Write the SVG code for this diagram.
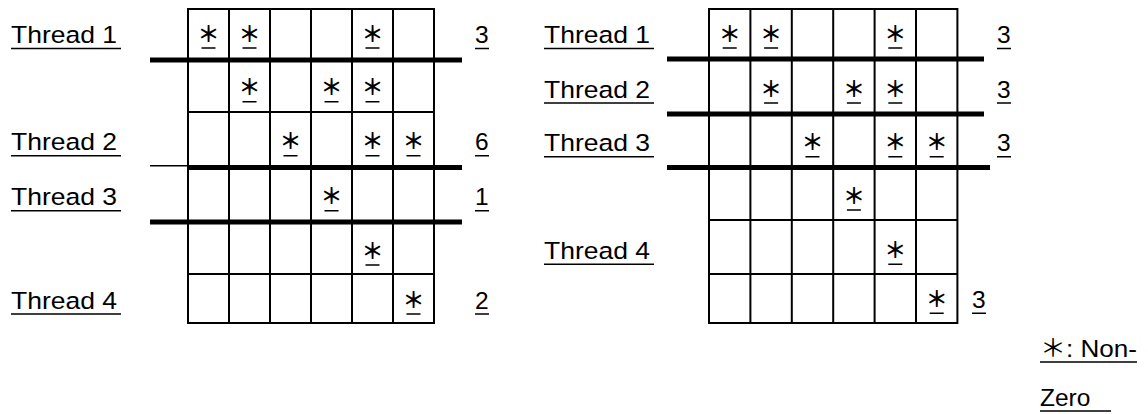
<svg xmlns="http://www.w3.org/2000/svg" width="1148" height="414" viewBox="0 0 1148 414">
  <style>
    .t { font-family: "Liberation Sans", "Noto Sans CJK JP", sans-serif; font-size: 24.5px; fill: #000; }
    .star { font-family: "Noto Sans CJK JP", "Liberation Sans", sans-serif; font-size: 22px; font-weight: 700; fill: #000; text-anchor: middle; }
    .grid { fill: none; stroke: #000; stroke-width: 2; }
    .sep { stroke: #000; stroke-width: 5; }
    .thin { stroke: #000; stroke-width: 1.5; }
    .ul { stroke: #000; stroke-width: 1.6; fill: none; }
  </style>
  <rect width="1148" height="414" fill="#fff"/>

  <!-- Left matrix: row partition before balancing -->
  <g id="matrix-left">
    <path class="grid" d="M188,9 H434 V323 H188 Z M229,9 V323 M270,9 V323 M311,9 V323 M352,9 V323 M393,9 V323 M188,112 H434 M188,274 H434"/>
    <g id="cells-left">
      <text class="star" x="208.5" y="41.5">＊</text>
      <text class="star" x="249.5" y="41.5">＊</text>
      <text class="star" x="372.5" y="41.5">＊</text>
      <text class="star" x="249.5" y="95.2">＊</text>
      <text class="star" x="331.5" y="95.2">＊</text>
      <text class="star" x="372.5" y="95.2">＊</text>
      <text class="star" x="290.5" y="149.2">＊</text>
      <text class="star" x="372.5" y="149.2">＊</text>
      <text class="star" x="413.5" y="149.2">＊</text>
      <text class="star" x="331.5" y="204.2">＊</text>
      <text class="star" x="372.5" y="258.5">＊</text>
      <text class="star" x="413.5" y="307.5">＊</text>
      <path class="ul" d="M201.5,48 h14 M242.5,48 h14 M365.5,48 h14 M242.5,101.7 h14 M324.5,101.7 h14 M365.5,101.7 h14 M283.5,155.7 h14 M365.5,155.7 h14 M406.5,155.7 h14 M324.5,210.7 h14 M365.5,265 h14 M406.5,314 h14"/>
    </g>
  </g>

  <!-- Left thread boundaries -->
  <g id="boundaries-left">
    <line class="sep" x1="150" y1="60" x2="462" y2="60"/>
    <line class="thin" x1="150" y1="165.7" x2="188" y2="165.7"/>
    <line class="sep" x1="188" y1="167.5" x2="462" y2="167.5"/>
    <line class="sep" x1="150" y1="222" x2="462" y2="222"/>
  </g>

  <g id="labels-left">
    <text class="t" x="11" y="43" textLength="106" lengthAdjust="spacingAndGlyphs">Thread 1</text>
    <text class="t" x="11" y="150.2" textLength="106" lengthAdjust="spacingAndGlyphs">Thread 2</text>
    <text class="t" x="11" y="205.2" textLength="106" lengthAdjust="spacingAndGlyphs">Thread 3</text>
    <text class="t" x="11" y="308.5" textLength="106" lengthAdjust="spacingAndGlyphs">Thread 4</text>
    <path class="ul" d="M11,48.5 H121 M11,155.7 H121 M11,210.7 H121 M11,314 H121"/>
  </g>

  <g id="counts-left">
    <text class="t" x="475" y="43">3</text>
    <text class="t" x="475" y="150.2">6</text>
    <text class="t" x="475" y="205.2">1</text>
    <text class="t" x="475" y="308.5">2</text>
    <path class="ul" d="M475,48.5 h14 M475,155.7 h14 M475,210.7 h14 M475,314 h14"/>
  </g>

  <!-- Right matrix: balanced row partition -->
  <g id="matrix-right">
    <path class="grid" d="M709,9 H957.4 V323 H709 Z M750.4,9 V323 M791.8,9 V323 M833.2,9 V323 M874.6,9 V323 M916,9 V323 M709,220 H957.4 M709,274 H957.4"/>
    <g id="cells-right">
      <text class="star" x="729.7" y="41.5">＊</text>
      <text class="star" x="771.1" y="41.5">＊</text>
      <text class="star" x="895.3" y="41.5">＊</text>
      <text class="star" x="771.1" y="96.5">＊</text>
      <text class="star" x="853.9" y="96.5">＊</text>
      <text class="star" x="895.3" y="96.5">＊</text>
      <text class="star" x="812.5" y="150.2">＊</text>
      <text class="star" x="895.3" y="150.2">＊</text>
      <text class="star" x="936.7" y="150.2">＊</text>
      <text class="star" x="853.9" y="203.5">＊</text>
      <text class="star" x="895.3" y="257.8">＊</text>
      <text class="star" x="936.7" y="306.8">＊</text>
      <path class="ul" d="M722.7,48 h14 M764.1,48 h14 M888.3,48 h14 M764.1,103 h14 M846.9,103 h14 M888.3,103 h14 M805.5,156.7 h14 M888.3,156.7 h14 M929.7,156.7 h14 M846.9,210 h14 M888.3,264.3 h14 M929.7,313.3 h14"/>
    </g>
  </g>

  <!-- Right thread boundaries -->
  <g id="boundaries-right">
    <line class="sep" x1="667" y1="59" x2="984" y2="59"/>
    <line class="sep" x1="667" y1="114" x2="984" y2="114"/>
    <line class="sep" x1="667" y1="167.5" x2="990" y2="167.5"/>
  </g>

  <g id="labels-right">
    <text class="t" x="544" y="43" textLength="106" lengthAdjust="spacingAndGlyphs">Thread 1</text>
    <text class="t" x="544" y="97.5" textLength="106" lengthAdjust="spacingAndGlyphs">Thread 2</text>
    <text class="t" x="544" y="151.2" textLength="106" lengthAdjust="spacingAndGlyphs">Thread 3</text>
    <text class="t" x="544" y="258.8" textLength="106" lengthAdjust="spacingAndGlyphs">Thread 4</text>
    <path class="ul" d="M544,48.5 H654 M544,103 H654 M544,156.7 H654 M544,264.3 H654"/>
  </g>

  <g id="counts-right">
    <text class="t" x="997" y="43">3</text>
    <text class="t" x="997" y="97.5">3</text>
    <text class="t" x="997" y="151.2">3</text>
    <text class="t" x="972" y="307.8">3</text>
    <path class="ul" d="M997,48.5 h14 M997,103 h14 M997,156.7 h14 M972,313.3 h14"/>
  </g>

  <g id="legend">
    <text class="t" x="1040" y="356.5" textLength="97" lengthAdjust="spacingAndGlyphs">＊: Non-</text>
    <text class="t" x="1040" y="405.5">Zero</text>
    <path class="ul" d="M1040,362 H1137 M1040,411 H1111"/>
  </g>
</svg>
